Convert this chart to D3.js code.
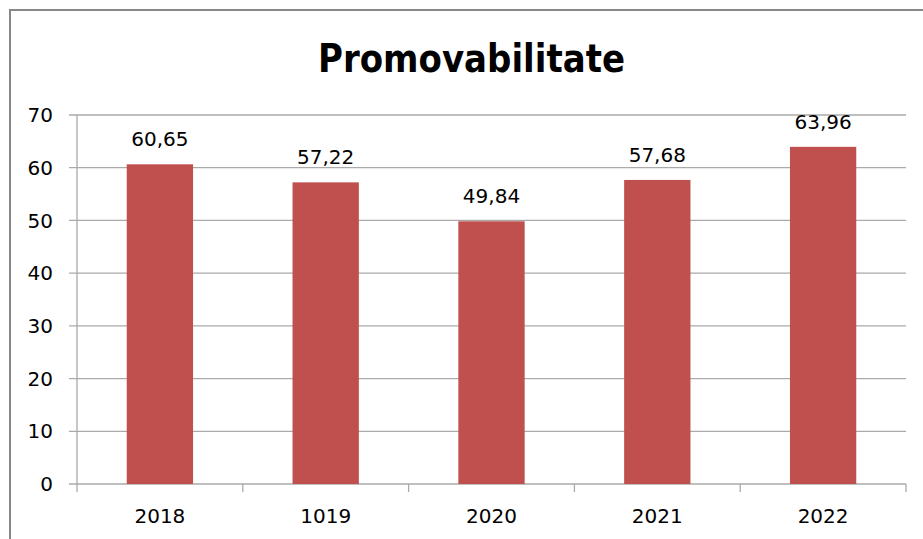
<!DOCTYPE html>
<html>
<head>
<meta charset="utf-8">
<script src="https://cdn.jsdelivr.net/npm/d3@7"></script>
<style>
  body { margin: 0; background: #fff; }
  text { font-family: "DejaVu Sans", sans-serif; fill: #000; }
</style>
</head>
<body>
<div id="viz"></div>
<script>
var years = ['2018', '1019', '2020', '2021', '2022'];
var values = [60.65, 57.22, 49.84, 57.68, 63.96];
var yTicks = [0, 10, 20, 30, 40, 50, 60, 70];
var title = 'Promovabilitate';

var width = 923,
    height = 539,
    plotLeft = 77,
    plotRight = 906,
    plotTop = 115,
    plotBottom = 484;

var svg = d3.select('#viz').append('svg')
    .attr('width', width)
    .attr('height', height);

// outer chart border (runs past the picture edge)
svg.append('rect')
    .attr('x', 10).attr('y', 10)
    .attr('width', 922).attr('height', 540)
    .style('fill', '#fff')
    .style('stroke', '#888')
    .style('stroke-width', 2);

var yScale = d3.scaleLinear()
    .domain([0, 70])
    .range([plotBottom, plotTop]);

var xScale = d3.scaleBand()
    .domain(years)
    .range([plotLeft, plotRight]);

// gridlines
svg.append('g').selectAll('line').data(yTicks)
  .enter().append('line')
    .attr('x1', plotLeft - 8)
    .attr('x2', plotRight)
    .attr('y1', function(d) { return yScale(d); })
    .attr('y2', function(d) { return yScale(d); })
    .style('stroke', '#aaa')
    .style('stroke-width', 1.3);

// y axis line
svg.append('line')
    .attr('x1', plotLeft).attr('x2', plotLeft)
    .attr('y1', plotTop).attr('y2', plotBottom)
    .style('stroke', '#aaa')
    .style('stroke-width', 1.3);

svg.append('g').selectAll('text').data(yTicks)
  .enter().append('text')
    .attr('x', 53)
    .attr('y', function(d) { return yScale(d); })
    .attr('dy', '0.36em')
    .attr('text-anchor', 'end')
    .style('font-size', '20px')
    .text(function(d) { return d; });

// x category ticks at band edges
var edges = years.map(function(d) { return xScale(d); }).concat([plotRight]);
svg.append('g').selectAll('line').data(edges)
  .enter().append('line')
    .attr('x1', function(d) { return d; })
    .attr('x2', function(d) { return d; })
    .attr('y1', plotBottom)
    .attr('y2', plotBottom + 8)
    .style('stroke', '#aaa')
    .style('stroke-width', 1.3);

svg.append('g').selectAll('text').data(years)
  .enter().append('text')
    .attr('x', function(d) { return xScale(d) + xScale.bandwidth() / 2; })
    .attr('y', 523)
    .attr('text-anchor', 'middle')
    .style('font-size', '20px')
    .text(function(d) { return d; });

// bars
var barWidth = xScale.bandwidth() * 0.4;
svg.append('g').selectAll('rect').data(values)
  .enter().append('rect')
    .style('fill', '#C0504D')
    .attr('x', function(d, i) {
      return xScale(years[i]) + (xScale.bandwidth() - barWidth) / 2;
    })
    .attr('y', function(d) { return yScale(d); })
    .attr('width', barWidth)
    .attr('height', function(d) { return plotBottom - yScale(d); });

// value labels
svg.append('g').selectAll('text').data(values)
  .enter().append('text')
    .attr('x', function(d, i) { return xScale(years[i]) + xScale.bandwidth() / 2; })
    .attr('y', function(d) { return yScale(d) - 18; })
    .attr('text-anchor', 'middle')
    .style('font-size', '20px')
    .text(function(d) { return d.toFixed(2).replace('.', ','); });

// title
svg.append('text')
    .attr('x', 471.5)
    .attr('y', 72)
    .attr('text-anchor', 'middle')
    .attr('textLength', 307)
    .attr('lengthAdjust', 'spacingAndGlyphs')
    .style('font-size', '39px')
    .style('font-weight', 'bold')
    .text(title);
</script>
</body>
</html>
